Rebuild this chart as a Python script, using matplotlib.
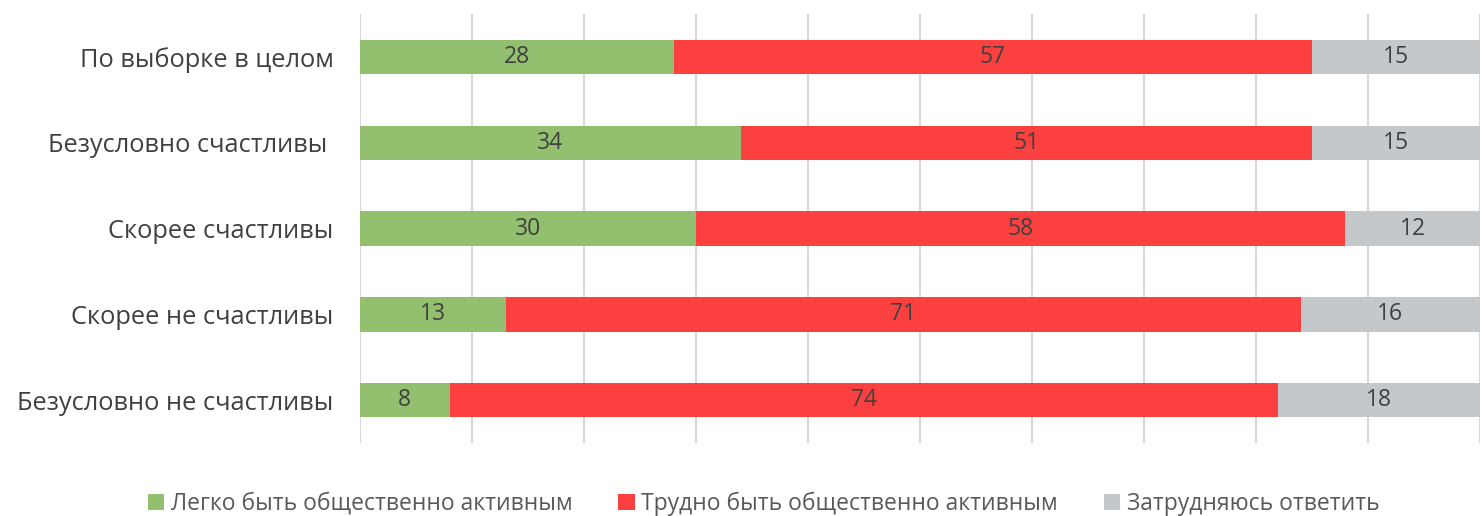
import matplotlib.pyplot as plt
import numpy as np

plt.rcParams['font.family'] = ['Open Sans', 'DejaVu Sans']

categories = ['По выборке в целом', 'Безусловно счастливы ', 'Скорее счастливы',
              'Скорее не счастливы', 'Безусловно не счастливы']
easy = [28, 34, 30, 13, 8]
hard = [57, 51, 58, 71, 74]
unsure = [15, 15, 12, 16, 18]
series_names = ['Легко быть общественно активным', 'Трудно быть общественно активным',
                'Затрудняюсь ответить']
colors = ['#92c06e', '#fc4040', '#c5c8cb']

fig = plt.figure(figsize=(14.83, 5.16), dpi=100)
ax = fig.add_axes([0.2428, 0.141, 0.755, 0.832])

y = np.arange(len(categories))
left = np.zeros(len(categories))
for vals, name, c in zip([easy, hard, unsure], series_names, colors):
    bars = ax.barh(y, vals, left=left, height=0.4, color=c, label=name, zorder=2)
    ax.bar_label(bars, labels=[str(v) for v in vals], label_type='center',
                 fontsize=16.5, color='#404040')
    left += np.array(vals)

ax.set_xlim(0, 100)
ax.set_ylim(len(categories) - 0.5, -0.5)
ax.set_xticks(np.arange(0, 101, 10))
ax.set_xticklabels([])
ax.tick_params(axis='x', length=0)
ax.tick_params(axis='y', length=0, labelsize=18.3, labelcolor='#404040', pad=19)
ax.set_yticks(y)
ax.set_yticklabels(categories)
ax.grid(axis='x', color='#d9d9d9', linewidth=1.5, zorder=0)
for s in ax.spines.values():
    s.set_visible(False)

fig.legend(loc='lower center', bbox_to_anchor=(0.515, -0.04), ncol=3, frameon=False,
           fontsize=16.5, labelcolor='#595959', handlelength=0.7, handleheight=0.7,
           handletextpad=0.3, columnspacing=2.0)

fig.savefig('out.png')
